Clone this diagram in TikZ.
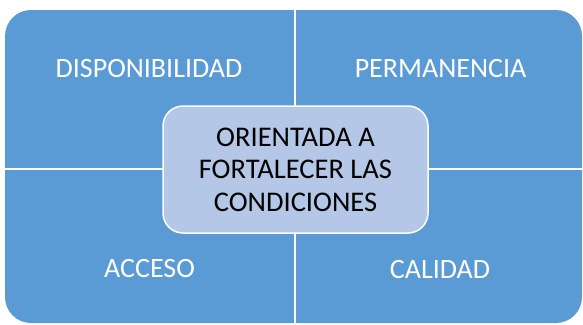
\documentclass[tikz,border=0pt]{standalone}
\usepackage{fontspec}
\setmainfont{Carlito}
\definecolor{qblue}{HTML}{5B9BD5}
\definecolor{cblue}{HTML}{B4C7E7}
\begin{document}
\begin{tikzpicture}[x=1pt,y=-1pt,
  lab/.style={text=white, inner sep=0pt, font=\fontsize{28}{32}\selectfont},
  divider/.style={draw=white, line width=1.5pt},
  centerbox/.style={draw=white, line width=1.5pt, fill=cblue, rounded corners=20pt,
    minimum width=265pt, minimum height=127pt, align=center, text=black,
    font=\fontsize{28.5}{32.5}\selectfont}]
\useasboundingbox (0,0) rectangle (583,324);
\coordinate (tl) at (5,10);
\coordinate (br) at (582,323);
\coordinate (vt) at (295,10);
\coordinate (vb) at (295,323);
\coordinate (hl) at (5,169);
\coordinate (hr) at (582,169);
\fill[qblue, rounded corners=26pt] (tl) rectangle (br);
\draw[divider] (vt) -- (vb);
\draw[divider] (hl) -- (hr);
\node[lab] (dis) at (149,69) {DISPONIBILIDAD};
\node[lab] (per) at (440.5,69) {PERMANENCIA};
\node[lab] (acc) at (149.5,268.5) {ACCESO};
\node[lab] (cal) at (440,269.5) {CALIDAD};
\node[centerbox] (ctr) at (295.5,169.5) {ORIENTADA A\\FORTALECER LAS\\CONDICIONES};
\end{tikzpicture}
\end{document}
